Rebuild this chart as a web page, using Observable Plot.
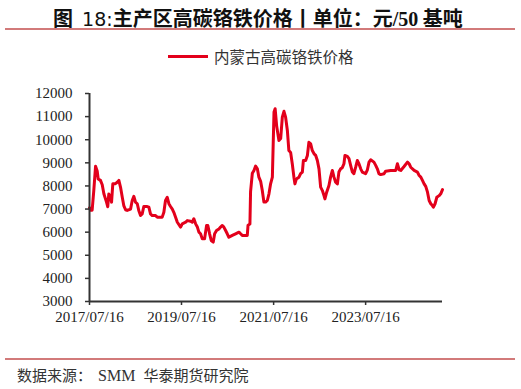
<!DOCTYPE html>
<html>
<head>
<meta charset="utf-8">
<script src="https://cdn.jsdelivr.net/npm/d3@7"></script>
<script src="https://cdn.jsdelivr.net/npm/@observablehq/plot@0.6"></script>
<style>
  html, body { margin: 0; padding: 0; background: #fff; }
  #wrap { position: relative; width: 521px; height: 389px; overflow: hidden; }
  .title { position: absolute; left: 53px; top: 3px; font-size: 20px; font-weight: bold; color: #111; white-space: nowrap; font-family: "Noto Sans CJK SC", sans-serif; }
  .title .lat { font-family: "DejaVu Sans", sans-serif; font-weight: normal; font-size: 19px; }
  .title .ser { font-family: "Liberation Serif", serif; }
  .rule { position: absolute; left: 5px; width: 510px; height: 2px; background: #d27a7a; }
  .legend { position: absolute; top: 45px; left: 168px; display: flex; align-items: center; font-family: "Noto Sans CJK SC", sans-serif; font-size: 15.5px; color: #333; white-space: nowrap; }
  .legend .sw { width: 40px; height: 3px; background: #e3001b; margin-right: 6px; }
  .footer { position: absolute; left: 17px; top: 364px; font-family: "Noto Sans CJK SC", sans-serif; font-size: 15px; color: #333; white-space: nowrap; }
  .footer .ser { font-family: "Liberation Serif", serif; font-size: 16px; margin: 0 8px 0 6px; }
  #chart { position: absolute; left: 0; top: 80px; }
</style>
</head>
<body>
<div id="wrap">
  <div class="title">图&nbsp;&nbsp;<span class="lat">18:</span>主产区高碳铬铁价格丨单位：元<span class="ser">/50</span> 基吨</div>
  <div class="rule" style="top:28px"></div>
  <div class="legend"><div class="sw"></div><span>内蒙古高碳铬铁价格</span></div>
  <div id="chart"></div>
  <div class="rule" style="top:358px"></div>
  <div class="footer">数据来源：<span class="ser">SMM</span>华泰期货研究院</div>
</div>
<script>
const seriesName = "内蒙古高碳铬铁价格";
const dates = [
"2017-07-16","2017-07-24","2017-08-06","2017-08-19","2017-09-02","2017-09-15","2017-09-23","2017-10-11","2017-10-25","2017-11-07",
"2017-11-28","2017-12-08","2017-12-16","2017-12-30","2018-01-07","2018-01-17","2018-02-07","2018-02-21","2018-03-06","2018-03-19",
"2018-04-02","2018-04-14","2018-04-28","2018-05-11","2018-06-07","2018-06-20","2018-07-03","2018-07-16","2018-07-30","2018-08-11",
"2018-08-25","2018-09-07","2018-09-20","2018-10-17","2018-10-30","2018-11-12","2018-11-26","2018-12-22","2019-01-05","2019-02-13",
"2019-02-26","2019-03-11","2019-03-25","2019-04-07","2019-04-20","2019-05-04","2019-05-16","2019-05-30","2019-06-13","2019-07-09",
"2019-07-22","2019-08-18","2019-08-31","2019-09-26","2019-10-09","2019-10-22","2019-11-05","2019-11-19","2019-12-01","2019-12-14",
"2019-12-28","2020-01-15","2020-01-31","2020-02-10","2020-02-24","2020-03-08","2020-03-24","2020-04-04","2020-04-19","2020-05-08",
"2020-05-21","2020-06-04","2020-06-16","2020-06-30","2020-07-13","2020-07-26","2020-08-22","2020-09-17","2020-10-14","2020-10-27",
"2020-11-09","2020-12-19","2020-12-25","2021-01-09","2021-01-14","2021-01-28","2021-02-10","2021-02-23","2021-03-09","2021-03-21",
"2021-04-04","2021-04-17","2021-04-30","2021-05-13","2021-05-27","2021-06-09","2021-06-22","2021-07-06","2021-07-19","2021-07-28",
"2021-08-09","2021-08-27","2021-09-10","2021-09-23","2021-10-06","2021-10-19","2021-11-02","2021-11-14","2021-11-28","2021-12-11",
"2021-12-24","2022-01-01","2022-01-12","2022-02-02","2022-02-15","2022-03-01","2022-03-09","2022-03-27","2022-04-10","2022-04-22",
"2022-05-06","2022-05-19","2022-06-02","2022-06-15","2022-06-28","2022-07-11","2022-07-24","2022-08-07","2022-08-19","2022-08-27",
"2022-09-10","2022-09-28","2022-10-11","2022-10-25","2022-11-07","2022-11-20","2022-12-04","2022-12-16","2022-12-30","2023-01-12",
"2023-01-25","2023-02-02","2023-02-21","2023-03-06","2023-03-19","2023-04-02","2023-04-14","2023-04-28","2023-05-11","2023-05-24",
"2023-06-07","2023-06-20","2023-07-16","2023-07-30","2023-08-12","2023-08-25","2023-09-20","2023-10-04","2023-10-17","2023-10-30",
"2023-11-12","2023-12-09","2023-12-22","2024-01-31","2024-03-11","2024-03-24","2024-04-07","2024-04-20","2024-05-16","2024-06-12",
"2024-06-25","2024-07-08","2024-08-04","2024-08-30","2024-09-13","2024-09-26","2024-10-09","2024-10-22","2024-11-04","2024-11-18",
"2024-12-01","2024-12-14","2024-12-27","2025-01-04","2025-01-17","2025-01-31","2025-02-18","2025-03-03","2025-03-17"
];
const prices = [
7050,6950,6950,7800,8850,8650,8300,8240,8050,7660,
7300,7100,7650,7510,7300,8090,8100,8160,8240,7950,
7510,7150,6970,6940,7000,7370,7550,7300,7230,6940,
6720,6790,7110,7110,7080,6790,6720,6720,6650,6650,
6860,7370,7510,7230,7110,7000,6860,6650,6430,6220,
6360,6430,6500,6470,6430,6580,6360,6220,6000,5930,
5710,5710,6290,6290,5930,5640,5570,5930,6070,6140,
6220,6290,6220,6070,5930,5780,5860,5930,6000,5930,
5860,5860,6300,6350,7750,8550,8670,8860,8740,8380,
8200,7800,7300,7300,7370,7660,8090,8380,11200,11340,
10600,9970,10050,10980,11230,10980,10400,9530,9450,8960,
8380,8090,8300,8380,8530,8600,9100,9100,9320,9890,
9820,9530,9390,9320,9100,8740,7950,7800,7590,7440,
7730,8020,8380,8670,8380,8160,8090,8600,8740,8790,
8960,9320,9280,9180,8890,8600,8530,8810,9100,8960,
8740,8600,8530,8700,9030,9130,9030,8890,8740,8530,
8490,8530,8640,8670,8670,8960,8700,8670,8840,9030,
8960,8810,8670,8600,8450,8380,8240,8090,7980,7730,
7370,7230,7150,7080,7230,7510,7580,7660,7840
];
const yTicks = [3000,4000,5000,6000,7000,8000,9000,10000,11000,12000];
const xTickLabels = ["2017/07/16","2019/07/16","2021/07/16","2023/07/16"];

const parse = d3.utcParse("%Y-%m-%d");
const data = dates.map((d, i) => ({date: parse(d), value: prices[i]}));
const xTicks = xTickLabels.map(s => d3.utcParse("%Y/%m/%d")(s));
const fmt = d3.utcFormat("%Y/%m/%d");

const chart = Plot.plot({
  width: 521,
  height: 250,
  marginLeft: 89,
  marginRight: 79,
  marginTop: 13,
  marginBottom: 29,
  style: { fontFamily: "'Liberation Serif', 'Times New Roman', serif", fontSize: "15px", color: "#222", background: "transparent", overflow: "visible" },
  x: { type: "utc", domain: [parse("2017-07-16"), parse("2025-03-17")], ticks: xTicks, tickFormat: fmt, tickSize: 4, tickPadding: 6, label: null },
  y: { domain: [3000, 12000], ticks: yTicks, tickFormat: d => String(d), tickSize: 4, tickPadding: 13, label: null },
  marks: [
    Plot.line(data, { x: "date", y: "value", stroke: "#e3001b", strokeWidth: 3, strokeLinejoin: "round", strokeLinecap: "round" }),
    Plot.axisX({ ticks: xTicks, tickFormat: fmt, tickSize: 4, tickPadding: 6, stroke: "#333", strokeWidth: 1.5, label: null }),
    Plot.axisY({ ticks: yTicks, tickFormat: d => String(d), tickSize: 4, tickPadding: 13, stroke: "#333", strokeWidth: 1.5, label: null }),
    Plot.ruleY([3000], { stroke: "#333", strokeWidth: 2 }),
    Plot.ruleX([parse("2017-07-16")], { stroke: "#333", strokeWidth: 2 })
  ]
});
document.getElementById("chart").appendChild(chart);
</script>
</body>
</html>
